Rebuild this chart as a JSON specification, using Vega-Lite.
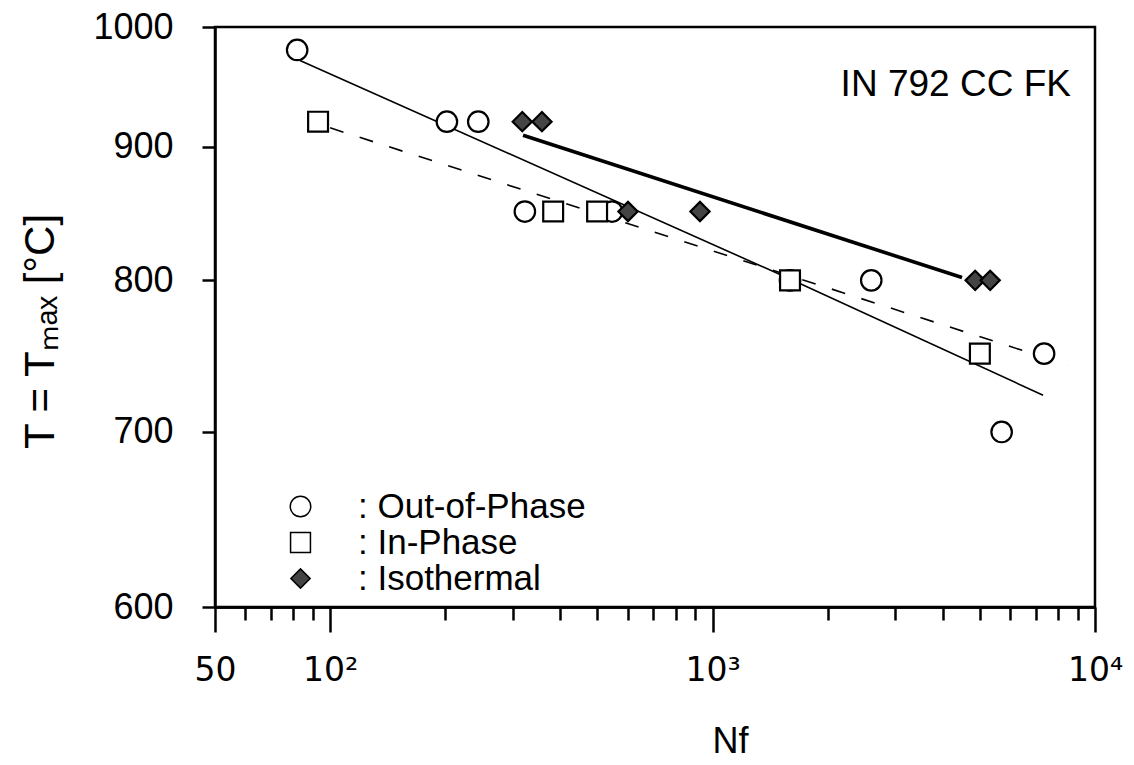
{
  "$schema": "https://vega.github.io/schema/vega-lite/v6.json",
  "width": 880,
  "height": 580,
  "autosize": {"type": "none"},
  "padding": {"left": 215, "top": 27, "right": 39, "bottom": 158},
  "background": "white",
  "config": {
    "font": "Liberation Sans",
    "view": {"stroke": "black", "strokeWidth": 2.5},
    "axis": {
      "grid": false,
      "domainColor": "black",
      "domainWidth": 2.5,
      "tickColor": "black",
      "labelColor": "black",
      "titleColor": "black",
      "labelFont": "Liberation Sans",
      "titleFont": "Liberation Sans",
      "titleFontWeight": "normal"
    },
    "axisY": {
      "values": [600, 700, 800, 900, 1000],
      "format": "d",
      "tickSize": 13, "tickWidth": 2.5,
      "labelFontSize": 36, "labelPadding": 29,
      "titleFontSize": 42,
      "titleAngle": -90, "titleX": -175, "titleY": 304,
      "titleAlign": "center", "titleBaseline": "middle"
    },
    "legend": {
      "labelLimit": 500
    }
  },
  "datasets": {
    "points": [
      {"series": "Out-of-Phase", "N": 82, "T": 980},
      {"series": "Out-of-Phase", "N": 202, "T": 920},
      {"series": "Out-of-Phase", "N": 244, "T": 920},
      {"series": "Out-of-Phase", "N": 323, "T": 850},
      {"series": "Out-of-Phase", "N": 546, "T": 850},
      {"series": "Out-of-Phase", "N": 1594, "T": 800},
      {"series": "Out-of-Phase", "N": 2600, "T": 800},
      {"series": "Out-of-Phase", "N": 7360, "T": 750},
      {"series": "Out-of-Phase", "N": 5700, "T": 700},
      {"series": "In-Phase", "N": 93, "T": 920},
      {"series": "In-Phase", "N": 383, "T": 850},
      {"series": "In-Phase", "N": 499, "T": 850},
      {"series": "In-Phase", "N": 1594, "T": 800},
      {"series": "In-Phase", "N": 5000, "T": 750},
      {"series": "Isothermal", "N": 318, "T": 920},
      {"series": "Isothermal", "N": 358, "T": 920},
      {"series": "Isothermal", "N": 601, "T": 850},
      {"series": "Isothermal", "N": 927, "T": 850},
      {"series": "Isothermal", "N": 4860, "T": 800},
      {"series": "Isothermal", "N": 5320, "T": 800}
    ],
    "fits": [
      {"series": "Out-of-Phase", "N": 83.4, "T": 971},
      {"series": "Out-of-Phase", "N": 1594, "T": 801},
      {"series": "Out-of-Phase", "N": 7316, "T": 723},
      {"series": "In-Phase", "N": 100, "T": 915},
      {"series": "In-Phase", "N": 8500, "T": 742.5},
      {"series": "Isothermal", "N": 319.5, "T": 909},
      {"series": "Isothermal", "N": 4490, "T": 802}
    ],
    "notes": [
      {"N": 8650, "T": 950, "label": "IN 792 CC FK"}
    ]
  },
  "layer": [
    {
      "data": {"name": "fits"},
      "transform": [{"filter": "datum.series == 'Out-of-Phase'"}],
      "mark": {"type": "line", "color": "black", "strokeWidth": 1.6},
      "encoding": {
        "x": {
          "field": "N", "type": "quantitative",
          "scale": {"type": "log", "domain": [50, 10000], "nice": false},
          "axis": {
            "orient": "bottom",
            "values": [60, 70, 80, 90, 200, 300, 400, 500, 600, 700, 800, 900, 2000, 3000, 4000, 5000, 6000, 7000, 8000, 9000],
            "tickSize": 13, "tickWidth": 2.5, "labels": false, "title": null
          }
        },
        "y": {
          "field": "T", "type": "quantitative",
          "scale": {"type": "log", "domain": [600, 1000], "nice": false, "zero": false},
          "axis": {"orient": "left", "title": "T = Tₘₐₓ [°C]"}
        }
      }
    },
    {
      "data": {"name": "fits"},
      "transform": [{"filter": "datum.series == 'In-Phase'"}],
      "mark": {"type": "line", "color": "black", "strokeWidth": 1.6, "strokeDash": [14, 17]},
      "encoding": {
        "x": {"field": "N", "type": "quantitative", "axis": null},
        "y": {"field": "T", "type": "quantitative", "axis": {"orient": "left", "title": "T = Tₘₐₓ [°C]"}}
      }
    },
    {
      "data": {"name": "fits"},
      "transform": [{"filter": "datum.series == 'Isothermal'"}],
      "mark": {"type": "line", "color": "black", "strokeWidth": 3.6},
      "encoding": {
        "x": {"field": "N", "type": "quantitative", "axis": null},
        "y": {"field": "T", "type": "quantitative", "axis": {"orient": "left", "title": "T = Tₘₐₓ [°C]"}}
      }
    },
    {
      "data": {"name": "points"},
      "mark": {"type": "point", "filled": true, "stroke": "black", "strokeWidth": 2.2, "opacity": 1},
      "encoding": {
        "x": {
          "field": "N", "type": "quantitative",
          "axis": {
            "orient": "bottom",
            "values": [50, 100, 1000, 10000],
            "tickSize": 25, "tickWidth": 2.5,
            "labelFont": "DejaVu Sans",
            "labelFontSize": 33, "labelPadding": 22, "labelFlush": false,
            "labelExpr": "datum.value == 50 ? '50' : datum.value == 100 ? '10²' : datum.value == 1000 ? '10³' : '10⁴'",
            "title": "Nf", "titleFontSize": 36,
            "titleX": 515, "titleY": 145, "titleAlign": "center", "titleBaseline": "alphabetic"
          }
        },
        "y": {"field": "T", "type": "quantitative", "axis": {"orient": "left", "title": "T = Tₘₐₓ [°C]"}},
        "shape": {
          "field": "series", "type": "nominal",
          "scale": {"domain": ["Out-of-Phase", "In-Phase", "Isothermal"], "range": ["circle", "square", "diamond"]},
          "legend": {
            "title": null, "orient": "none", "legendX": 68, "legendY": 462,
            "labelFontSize": 35, "labelExpr": "': ' + datum.label", "labelLimit": 500,
            "labelOffset": 40, "rowPadding": -10, "padding": 0,
            "labelFont": "Liberation Sans", "labelColor": "black", "symbolOpacity": 1,
            "encode": {"symbols": {"update": {"stroke": {"value": "black"}, "strokeWidth": {"value": 2}}}}
          }
        },
        "fill": {
          "field": "series", "type": "nominal",
          "scale": {"domain": ["Out-of-Phase", "In-Phase", "Isothermal"], "range": ["white", "white", "#444444"]},
          "legend": {
            "title": null, "orient": "none", "legendX": 68, "legendY": 462,
            "labelFontSize": 35, "labelExpr": "': ' + datum.label", "labelLimit": 500,
            "labelOffset": 40, "rowPadding": -10, "padding": 0,
            "labelFont": "Liberation Sans", "labelColor": "black", "symbolOpacity": 1,
            "encode": {"symbols": {"update": {"stroke": {"value": "black"}, "strokeWidth": {"value": 2}}}}
          }
        },
        "size": {
          "field": "series", "type": "nominal",
          "scale": {"domain": ["Out-of-Phase", "In-Phase", "Isothermal"], "range": [420, 370, 640]},
          "legend": {
            "title": null, "orient": "none", "legendX": 68, "legendY": 462,
            "labelFontSize": 35, "labelExpr": "': ' + datum.label", "labelLimit": 500,
            "labelOffset": 40, "rowPadding": -10, "padding": 0,
            "labelFont": "Liberation Sans", "labelColor": "black", "symbolOpacity": 1,
            "encode": {"symbols": {"update": {"stroke": {"value": "black"}, "strokeWidth": {"value": 2}}}}
          }
        }
      }
    },
    {
      "data": {"name": "notes"},
      "mark": {"type": "text", "align": "right", "baseline": "middle", "fontSize": 37, "font": "Liberation Sans", "color": "black"},
      "encoding": {
        "x": {"field": "N", "type": "quantitative", "axis": null},
        "y": {"field": "T", "type": "quantitative", "axis": {"orient": "left", "title": "T = Tₘₐₓ [°C]"}},
        "text": {"field": "label", "type": "nominal"}
      }
    }
  ],
  "resolve": {"axis": {"x": "independent"}}
}
